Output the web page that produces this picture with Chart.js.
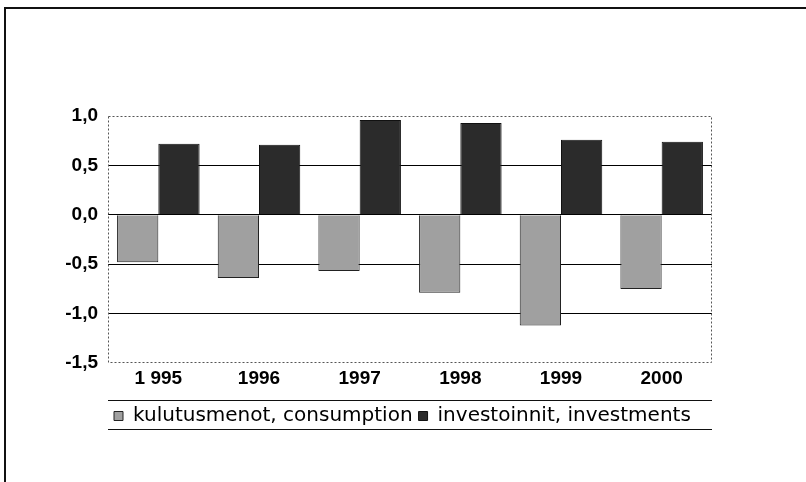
<!DOCTYPE html>
<html>
<head>
<meta charset="utf-8">
<script src="https://cdn.jsdelivr.net/npm/chart.js@4.4.0/dist/chart.umd.min.js"></script>
<style>
  html, body { margin: 0; padding: 0; background: #fff; }
  #wrap { width: 806px; height: 482px; }
</style>
</head>
<body>
<div id="wrap"><canvas id="chart" width="806" height="482"></canvas></div>
<script>
// ========== DATA ==========
const years = ['1 995', '1996', '1997', '1998', '1999', '2000'];
const consumption = [-0.48, -0.64, -0.57, -0.79, -1.12, -0.75];
const investments = [0.72, 0.71, 0.96, 0.93, 0.76, 0.74];
const seriesNames = ['kulutusmenot, consumption', 'investoinnit, investments'];

const tickFont = { family: '"Liberation Sans", Arial, sans-serif', size: 19, weight: 'bold' };

// frame lines, dotted plot border, rules around the legend
const framePlugin = {
  id: 'frame',
  beforeDraw(chart) {
    const ctx = chart.ctx;
    ctx.save();
    ctx.strokeStyle = '#111';
    ctx.lineWidth = 2;
    ctx.beginPath();
    ctx.moveTo(5, 482);
    ctx.lineTo(5, 8);
    ctx.lineTo(806, 8);
    ctx.stroke();
    ctx.restore();
  },
  afterDatasetsDraw(chart) {
    const { ctx, chartArea: a, legend } = chart;
    ctx.save();
    ctx.strokeStyle = '#555';
    ctx.lineWidth = 1;
    ctx.setLineDash([2, 2]);
    ctx.strokeRect(a.left + 0.5, a.top + 0.5, a.right - a.left - 1, a.bottom - a.top - 1);
    ctx.setLineDash([]);
    ctx.strokeStyle = '#111';
    const t = Math.round(legend.top);
    ctx.beginPath();
    ctx.moveTo(a.left, t + 0.5);
    ctx.lineTo(a.right, t + 0.5);
    ctx.moveTo(a.left, t + 29.5);
    ctx.lineTo(a.right, t + 29.5);
    ctx.stroke();
    ctx.restore();
  }
};

const chart = new Chart(document.getElementById('chart'), {
  type: 'bar',
  data: {
    labels: years,
    datasets: [{
      label: seriesNames[0],
      data: consumption,
      backgroundColor: '#a0a0a0',
      borderColor: '#222',
      borderWidth: 1
    }, {
      label: seriesNames[1],
      data: investments,
      backgroundColor: '#2b2b2b',
      borderColor: '#111',
      borderWidth: 1
    }]
  },
  options: {
    responsive: false,
    animation: false,
    layout: { padding: { left: 0, right: 94, top: 116, bottom: 46 } },
    datasets: {
      bar: { categoryPercentage: 0.82, barPercentage: 1 }
    },
    plugins: {
      tooltip: { enabled: false },
      legend: {
        position: 'bottom',
        align: 'start',
        fullSize: false,
        labels: {
          color: '#000',
          boxWidth: 9,
          boxHeight: 9,
          padding: 6,
          font: { family: '"DejaVu Sans", sans-serif', size: 20, lineHeight: 1 }
        }
      }
    },
    scales: {
      x: {
        grid: { display: false, drawTicks: false },
        border: { display: false },
        ticks: { color: '#000', font: tickFont, padding: 4 },
        afterFit(scale) { scale.height = 37; }
      },
      y: {
        min: -1.5,
        max: 1.0,
        border: { display: false },
        grid: {
          color: ctx => (ctx.tick && (ctx.tick.value === 1 || ctx.tick.value === -1.5)) ? 'rgba(0,0,0,0)' : '#000',
          lineWidth: 1,
          drawTicks: false
        },
        ticks: {
          stepSize: 0.5,
          color: '#000',
          font: tickFont,
          padding: 10,
          callback: v => v.toFixed(1).replace('.', ',')
        },
        afterFit(scale) { scale.width = 108; }
      }
    }
  },
  plugins: [framePlugin]
});
</script>
</body>
</html>
